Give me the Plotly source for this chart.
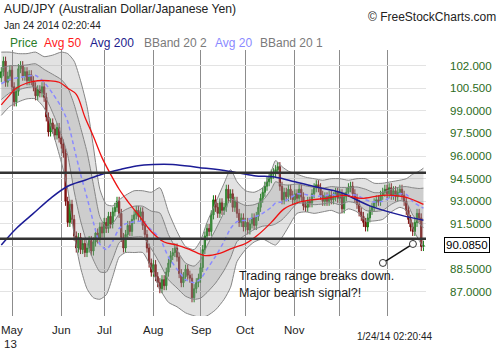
import numpy as np
import pandas as pd
import plotly.graph_objects as go

# ---------------- data ----------------
dates = pd.bdate_range("2013-04-24", "2014-01-24")
close = [
    101.6, 102.3, 100.9, 101.3, 101.7, 100.6, 99.6, 100.3, 101.8, 102.0,
    101.3, 101.6, 101.0, 101.4, 101.0, 100.6, 100.0, 100.4, 100.2, 100.6,
    99.9, 98.6, 97.6, 98.2, 97.8, 97.4, 97.9, 97.2, 96.8, 96.2,
    93.0, 91.6, 92.8, 91.8, 90.7, 89.9, 90.6, 89.8, 90.2, 89.6,
    89.9, 90.4,
    89.7, 90.3, 90.9, 90.5, 91.3, 90.9, 91.6, 91.2,
    92.0, 91.5, 92.3, 92.6, 93.0, 92.2, 90.6, 89.9, 90.8, 91.4,
    91.0, 91.8, 92.1, 92.4, 92.0, 92.3, 91.4, 90.8, 89.9, 88.9,
    88.3, 88.8, 88.0, 87.6, 87.2, 87.8, 87.4, 88.3, 88.9, 89.4,
    89.6, 89.9, 89.3, 88.2, 87.6, 88.0, 88.5, 88.1, 87.9, 86.6,
    87.2, 87.6, 87.9, 88.6, 89.8, 90.7, 91.2, 91.0, 92.1, 93.1,
    92.6, 92.2, 92.9, 92.4, 92.6, 93.8, 93.2, 93.5, 92.6, 93.0,
    92.2, 91.6, 91.9, 91.3, 91.6, 91.1, 91.5, 91.9, 91.4, 92.0,
    92.6, 93.2,
    93.6, 94.0, 94.3, 94.5, 94.8, 94.9, 95.1, 95.3,
    94.0, 93.1, 93.6, 93.3, 93.8, 93.4, 93.1, 93.5, 93.2, 93.8,
    93.3, 92.7, 92.6, 93.0, 92.9, 93.5, 93.9, 94.1, 93.9, 93.4,
    93.0, 93.3, 93.0, 93.4, 93.1, 93.3, 93.6, 93.2, 93.5,
    92.5, 93.3, 93.6, 93.9, 94.0, 93.5, 93.2, 92.8, 92.3, 92.0, 91.6,
    91.3, 91.9, 92.4, 92.6, 92.9, 93.1, 93.0, 93.4, 93.6, 93.8,
    93.5, 93.9, 93.4, 93.7, 93.3, 93.6, 93.8, 93.4, 93.0, 92.4,
    91.8, 91.3, 91.0, 91.6, 92.2, 91.9, 90.0, 90.085,
]
first_open = 101.2
wick = 0.3

avg50_idx = [0, 3, 7, 12, 17, 22, 27, 31, 35, 39, 43, 47, 51, 55, 59, 64, 70, 76, 82, 88,
             95, 102, 108, 114, 120, 126, 132, 138, 145, 152, 160, 168, 178, 188, 197]
avg50_val = [99.4, 99.9, 100.5, 100.85, 101.0, 101.0, 100.9, 100.5, 100.1, 98.6, 97.3, 95.9,
             94.8, 93.8, 93.0, 92.1, 91.0, 90.3, 90.1, 89.8, 89.4, 89.55, 89.9, 90.2, 90.8,
             91.6, 92.5, 92.9, 93.1, 93.2, 93.4, 93.2, 93.4, 93.3, 92.8]

avg200_idx = [0, 7, 15, 23, 31, 39, 47, 55, 63, 71, 80, 92, 106, 118, 128, 137, 147, 158, 172, 186, 197]
avg200_val = [90.1, 91.2, 92.2, 93.2, 94.0, 94.4, 94.8, 95.1, 95.35, 95.45, 95.45, 95.25, 95.0,
              94.7, 94.6, 94.3, 93.95, 93.6, 92.7, 92.1, 91.75]

bb_idx = [0, 4, 8, 12, 16, 20, 24, 28, 31, 34, 37, 40, 43, 46, 49, 52, 55, 58, 62, 66,
          70, 74, 78, 82, 86, 90, 93, 96, 100, 104, 107, 110, 114, 118, 122, 126, 128, 131, 134, 138,
          142, 146, 150, 154, 158, 162, 166, 170, 174, 178, 182, 186, 189, 192, 195, 197]
bb_upper2 = [102.9, 102.9, 102.8, 102.8, 102.9, 102.6, 102.7, 102.9, 102.8, 102.3,
             101.0, 99.3, 96.6, 93.8, 92.8, 92.7, 93.1, 93.4, 93.7, 93.7,
             93.6, 93.9, 92.3, 91.0, 90.0, 89.8, 90.4, 91.6, 92.9, 94.2,
             95.1, 94.3, 93.7, 93.6, 93.9, 95.0, 95.7, 95.3, 95.0, 94.8,
             94.6, 94.5, 94.4, 94.5, 94.5, 94.4, 94.5, 94.5, 94.2, 94.2,
             94.3, 94.4, 94.5, 94.8, 95.0, 95.2]
bb_lower2 = [98.7, 99.3, 99.6, 99.8, 99.8, 99.2, 97.6, 95.6, 93.8, 90.8,
             88.6, 87.2, 86.6, 86.5, 86.8, 88.0, 89.3, 89.6, 89.6, 89.6,
             88.6, 87.2, 86.3, 86.0, 85.6, 85.4, 85.3, 85.4, 85.8, 86.5,
             87.3, 89.0, 89.8, 90.3, 90.5, 90.2, 90.1, 90.6, 91.3, 92.2,
             92.3, 92.2, 92.3, 92.4, 92.2, 92.5, 92.3, 91.7, 91.7, 91.8,
             92.3, 92.6, 92.4, 91.2, 90.4, 89.9]

range_lines = [94.90, 90.52]
ytick_vals = [102.0, 100.5, 99.0, 97.5, 96.0, 94.5, 93.0, 91.5, 90.0, 88.5, 87.0]
ytick_text = ["102.000", "100.500", "99.0000", "97.5000", "96.0000", "94.5000",
              "93.0000", "91.5000", "", "88.5000", "87.0000"]
last_price_label = "90.0850"
month_names = ["May", "Jun", "Jul", "Aug", "Sep", "Oct", "Nov", "Dec", "Jan"]
shown_months = ["May", "Jun", "Jul", "Aug", "Sep", "Oct", "Nov"]
note_lines = ["Trading range breaks down.", "Major bearish signal?!"]

# ---------------- derived ----------------
n = len(close)
idx = np.arange(n)
close_a = np.array(close)
open_a = np.concatenate([[first_open], close_a[:-1]])
high_a = np.maximum(open_a, close_a) + wick
low_a = np.minimum(open_a, close_a) - wick

u2 = np.array(bb_upper2); l2 = np.array(bb_lower2)
mid = (u2 + l2) / 2
u1 = mid + (u2 - l2) / 4
l1 = mid - (u2 - l2) / 4

ser = pd.Series(idx, index=dates)
month_first = ser.groupby([dates.year, dates.month]).min()
month_pos = [int(v) for v in month_first.values[1:]]  # May 2013 .. Jan 2014

# ---------------- layout geometry ----------------
W, H = 500, 350
PL, PR, PT, PB = 0, 426, 50, 316
def PX(x): return (x - PL) / (PR - PL)
def PY(y): return (PB - y) / (PB - PT)

fig = go.Figure()
band_line = dict(color="#858585", width=1, shape="spline", smoothing=0.6)
fig.add_trace(go.Scatter(x=bb_idx, y=l2, mode="lines", line=band_line, hoverinfo="skip"))
fig.add_trace(go.Scatter(x=bb_idx, y=u2, mode="lines", line=band_line, fill="tonexty",
                         fillcolor="rgba(150,150,150,0.28)", hoverinfo="skip"))
fig.add_trace(go.Scatter(x=bb_idx, y=l1, mode="lines", line=band_line, hoverinfo="skip"))
fig.add_trace(go.Scatter(x=bb_idx, y=u1, mode="lines", line=band_line, fill="tonexty",
                         fillcolor="rgba(150,150,150,0.28)", hoverinfo="skip"))
fig.add_trace(go.Scatter(x=bb_idx, y=mid, mode="lines",
                         line=dict(color="#8a8aff", width=1.5, dash="4px,3px", shape="spline", smoothing=0.6)))
fig.add_trace(go.Candlestick(
    x=idx, open=open_a, high=high_a, low=low_a, close=close_a,
    increasing=dict(line=dict(color="#0a7a0a", width=1), fillcolor="#2e9a2e"),
    decreasing=dict(line=dict(color="#7a0a0a", width=1), fillcolor="#8b1a1a"),
    whiskerwidth=0))
fig.add_trace(go.Scatter(x=avg200_idx, y=avg200_val, mode="lines",
                         line=dict(color="#1c1c96", width=1.5, shape="spline")))
fig.add_trace(go.Scatter(x=avg50_idx, y=avg50_val, mode="lines",
                         line=dict(color="#ee1111", width=1.3, shape="spline")))

shapes = []
for v in range_lines:
    shapes.append(dict(type="line", xref="paper", x0=0, x1=1, yref="y", y0=v, y1=v,
                       line=dict(color="#333333", width=2.5), layer="above"))
# callout line with circles
p_a = (178.1, 88.91); p_b = (192.1, 90.17)
shapes.append(dict(type="line", xref="x", yref="y", x0=p_a[0], y0=p_a[1], x1=p_b[0], y1=p_b[1],
                   line=dict(color="#111111", width=1.5), layer="above"))
for (cx, cy) in (p_a, p_b):
    shapes.append(dict(type="circle", xref="x", yref="y", xsizemode="pixel", ysizemode="pixel",
                       xanchor=cx, yanchor=cy, x0=-3.5, x1=3.5, y0=-3.5, y1=3.5,
                       line=dict(color="#333333", width=1), fillcolor="white", layer="above"))

ann = []
F = "Liberation Sans"
ann.append(dict(text="AUD/JPY (Australian Dollar/Japanese Yen)", x=PX(2), y=PY(9),
                font=dict(size=12.2, color="#222222", family=F)))
ann.append(dict(text="Jan 24 2014 02:20:44", x=PX(2), y=PY(25),
                font=dict(size=10, color="#222222", family=F)))
ann.append(dict(text="© FreeStockCharts.com", x=PX(498), y=PY(17), xanchor="right",
                font=dict(size=12, color="#222222", family=F)))
legend_items = [("Price", "#2a7d2a", 8), ("Avg 50", "#ff1a1a", 42), ("Avg 200", "#1c1c8c", 88),
                ("BBand 20 2", "#7a7a7a", 142), ("Avg 20", "#8a8aff", 213), ("BBand 20 1", "#7a7a7a", 258)]
for t, c, xp in legend_items:
    ann.append(dict(text=t, x=PX(xp), y=PY(43), font=dict(size=12, color=c, family=F)))
for v, t in zip(ytick_vals, ytick_text):
    if t:
        ann.append(dict(text=t, x=PX(448), y=v, yref="y", font=dict(size=11.5, color="#2b6b1b", family=F)))
ann.append(dict(text=last_price_label, x=PX(444), y=close[-1], yref="y",
                bordercolor="#000000", borderwidth=1, borderpad=1, bgcolor="white",
                font=dict(size=11.5, color="#000000", family=F)))
for name, pos in zip(month_names, month_pos):
    if name in shown_months:
        ann.append(dict(text=name, x=pos, xref="x", y=PY(330), xanchor="center",
                        font=dict(size=11.5, color="#222222", family=F)))
ann.append(dict(text="13", x=PX(2), y=PY(344), font=dict(size=11.5, color="#222222", family=F)))
ann.append(dict(text="1/24/14 02:20:44", x=PX(395), y=PY(336), xanchor="center",
                font=dict(size=10, color="#222222", family=F)))
ann.append(dict(text=note_lines[0], x=PX(237), y=PY(276), font=dict(size=12.5, color="#1a1a1a", family=F)))
ann.append(dict(text=note_lines[1], x=PX(237), y=PY(293), font=dict(size=12.5, color="#1a1a1a", family=F)))
for a in ann:
    a.setdefault("xref", "paper"); a.setdefault("yref", "paper")
    a.setdefault("xanchor", "left"); a.setdefault("yanchor", "middle")
    a["showarrow"] = False

fig.update_layout(
    width=W, height=H, margin=dict(l=PL, r=W - PR, t=PT, b=H - PB),
    paper_bgcolor="white", plot_bgcolor="white", showlegend=False,
    shapes=shapes, annotations=ann, boxgap=0.15,
    xaxis=dict(range=[-0.6, 198.2], tickvals=month_pos, showticklabels=False, ticks="",
               showgrid=True, gridcolor="#8c8c8c", gridwidth=1, zeroline=False,
               rangeslider=dict(visible=False), showline=False),
    yaxis=dict(range=[85.39, 103.04], tickvals=ytick_vals, showticklabels=False, ticks="",
               showgrid=True, gridcolor="#e3e3e3", gridwidth=1, zeroline=False, showline=False),
)
fig.write_html("out.html")
